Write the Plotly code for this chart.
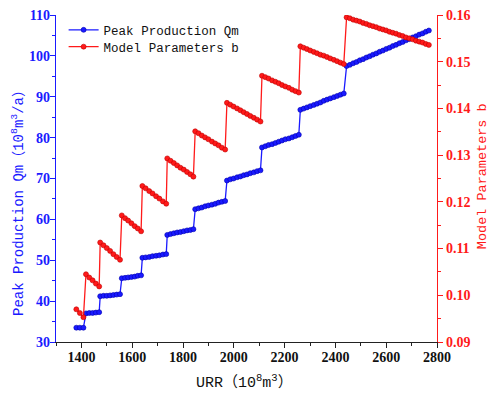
import plotly.graph_objects as go

# URR values (10^8 m^3)
urr = [
    1380, 1394, 1408,
    1418, 1431, 1444, 1457, 1470,
    1474, 1487, 1500, 1513, 1526, 1539, 1552,
    1559, 1572, 1584, 1597, 1610, 1622, 1635,
    1640, 1653, 1667, 1680, 1694, 1707, 1721, 1734,
    1738, 1751, 1764, 1777, 1790, 1803, 1816, 1829, 1841,
    1848, 1861, 1874, 1887, 1900, 1914, 1927, 1940, 1953, 1966,
    1973, 1986, 1999, 2013, 2026, 2039, 2052, 2065, 2079, 2092, 2105,
    2111, 2124, 2137, 2151, 2164, 2177, 2190, 2203, 2217, 2230, 2243, 2256,
    2262, 2275, 2288, 2301, 2315, 2328, 2341, 2354, 2367, 2380, 2394, 2407, 2420, 2433,
    2444, 2457, 2470, 2483, 2496, 2509, 2522, 2535, 2548, 2561, 2574, 2587, 2600,
    2613, 2626, 2639, 2652, 2665, 2678, 2691, 2704, 2717, 2730, 2743, 2756, 2768,
]

# Peak production Qm (10^8 m^3/a)
peak_qm = [
    33.5, 33.5, 33.5,
    37.0, 37.1, 37.1, 37.2, 37.3,
    41.2, 41.3, 41.3, 41.4, 41.5, 41.6, 41.7,
    45.6, 45.7, 45.8, 45.9, 46.0, 46.2, 46.3,
    50.6, 50.7, 50.8, 51.0, 51.1, 51.2, 51.4, 51.5,
    56.2, 56.4, 56.6, 56.8, 56.9, 57.1, 57.3, 57.4, 57.6,
    62.5, 62.7, 62.9, 63.2, 63.4, 63.6, 63.8, 64.1, 64.3, 64.5,
    69.5, 69.8, 70.0, 70.3, 70.5, 70.8, 71.0, 71.3, 71.5, 71.8, 72.0,
    77.6, 77.9, 78.2, 78.4, 78.7, 79.0, 79.3, 79.6, 79.8, 80.1, 80.4, 80.7,
    86.8, 87.1, 87.4, 87.7, 88.0, 88.3, 88.6, 89.0, 89.3, 89.6, 89.9, 90.2, 90.5, 90.8,
    97.5, 97.8, 98.2, 98.5, 98.9, 99.2, 99.6, 99.9, 100.3, 100.6, 101.0, 101.3, 101.7,
    102.0, 102.4, 102.7, 103.1, 103.4, 103.8, 104.1, 104.5, 104.8, 105.2, 105.5, 105.9, 106.2,
]

# Model parameter b
param_b = [
    0.0970, 0.0962, 0.0953,
    0.1045, 0.1038, 0.1032, 0.1025, 0.1019,
    0.1113, 0.1107, 0.1101, 0.1095, 0.1088, 0.1082, 0.1076,
    0.1171, 0.1165, 0.1160, 0.1154, 0.1148, 0.1143, 0.1137,
    0.1234, 0.1229, 0.1223, 0.1218, 0.1212, 0.1207, 0.1201, 0.1196,
    0.1293, 0.1288, 0.1283, 0.1278, 0.1273, 0.1269, 0.1264, 0.1259, 0.1254,
    0.1351, 0.1347, 0.1342, 0.1338, 0.1334, 0.1329, 0.1325, 0.1321, 0.1316, 0.1312,
    0.1412, 0.1408, 0.1404, 0.1400, 0.1396, 0.1392, 0.1388, 0.1384, 0.1380, 0.1376, 0.1372,
    0.1470, 0.1467, 0.1464, 0.1460, 0.1457, 0.1454, 0.1450, 0.1447, 0.1444, 0.1440, 0.1437, 0.1434,
    0.1533, 0.1530, 0.1527, 0.1524, 0.1521, 0.1518, 0.1515, 0.1513, 0.1510, 0.1507, 0.1504, 0.1501, 0.1498, 0.1495,
    0.1595, 0.1593, 0.1590, 0.1588, 0.1586, 0.1583, 0.1581, 0.1578, 0.1576, 0.1574, 0.1571, 0.1569, 0.1567,
    0.1564, 0.1562, 0.1560, 0.1557, 0.1555, 0.1552, 0.1550, 0.1548, 0.1545, 0.1543, 0.1541, 0.1538, 0.1536,
]

x_ticks = [1400, 1600, 1800, 2000, 2200, 2400, 2600, 2800]
y1_ticks = [30, 40, 50, 60, 70, 80, 90, 100, 110]
y2_ticks = [0.09, 0.10, 0.11, 0.12, 0.13, 0.14, 0.15, 0.16]
y2_labels = ["0.09", "0.10", "0.11", "0.12", "0.13", "0.14", "0.15", "0.16"]

x_title = "URR（10<sup>8</sup>m<sup>3</sup>）"
y1_title = "Peak Production Qm（10<sup>8</sup>m<sup>3</sup>/a）"
y2_title = "Model Parameters b"

BLUE = "#1a1aff"
RED = "#ff1a1a"
TXT_FONT = "Liberation Mono, Noto Sans CJK SC, monospace"
NUM_FONT = "Liberation Serif, Times New Roman, serif"

fig = go.Figure()
fig.add_trace(go.Scatter(
    x=urr, y=peak_qm, name="Peak Production Qm", mode="lines+markers",
    line=dict(color=BLUE, width=1.3), legend="legend",
    marker=dict(color=BLUE, size=5, line=dict(color="#0000b0", width=0.6)),
))
fig.add_trace(go.Scatter(
    x=urr, y=param_b, name="Model Parameters b", mode="lines+markers", yaxis="y2",
    line=dict(color=RED, width=1.3), legend="legend2",
    marker=dict(color=RED, size=5, line=dict(color="#c00000", width=0.6)),
))

legend_style = dict(
    xanchor="left", yanchor="middle",
    bgcolor="rgba(0,0,0,0)", borderwidth=0,
    font=dict(family=TXT_FONT, size=12.5, color="#111111"),
    itemwidth=30,
)

# the page body has an 8px margin, so the figure is 8px smaller than the window
fig.update_layout(
    width=490, height=389,
    margin=dict(l=48, r=61, t=7, b=55, autoexpand=False),
    paper_bgcolor="white", plot_bgcolor="white",
    showlegend=True,
    legend=dict(x=0.02, y=0.9535, **legend_style),
    legend2=dict(x=0.02, y=0.902, **legend_style),
    xaxis=dict(
        range=[1300, 2800], tickvals=x_ticks, automargin=False,
        ticklabeloverflow="allow",
        showgrid=False, zeroline=False,
        showline=True, linecolor="#222222", linewidth=1.2,
        ticks="outside", ticklen=5, tickwidth=1.2, tickcolor="#222222",
        ticklabelstandoff=-3,
        minor=dict(dtick=100, tick0=1300, ticks="outside", ticklen=3, tickwidth=1, tickcolor="#222222"),
        tickfont=dict(family=NUM_FONT, size=14, color="#111111", weight="bold"),
    ),
    yaxis=dict(
        range=[30, 110], tickvals=y1_ticks, automargin=False,
        ticklabeloverflow="allow",
        showgrid=False, zeroline=False,
        showline=True, linecolor=BLUE, linewidth=1.2,
        ticks="outside", ticklen=5, tickwidth=1.2, tickcolor=BLUE,
        ticklabelstandoff=-3,
        minor=dict(dtick=5, tick0=30, ticks="outside", ticklen=3, tickwidth=1, tickcolor=BLUE),
        tickfont=dict(family=NUM_FONT, size=14, color=BLUE, weight="bold"),
    ),
    yaxis2=dict(
        range=[0.09, 0.16], tickvals=y2_ticks, ticktext=y2_labels, automargin=False,
        ticklabeloverflow="allow",
        overlaying="y", side="right",
        showgrid=False, zeroline=False,
        showline=True, linecolor=RED, linewidth=1.2,
        ticks="outside", ticklen=5, tickwidth=1.2, tickcolor=RED,
        ticklabelstandoff=0,
        minor=dict(dtick=0.005, tick0=0.09, ticks="outside", ticklen=3, tickwidth=1, tickcolor=RED),
        tickfont=dict(family=NUM_FONT, size=14, color=RED, weight="bold"),
    ),
    annotations=[
        dict(text=x_title, xref="paper", yref="paper",
             x=0.496, y=-0.122, xanchor="center", yanchor="middle", showarrow=False,
             font=dict(family=TXT_FONT, size=15, color="#111111")),
        dict(text=y1_title, textangle=-90, xref="paper", yref="paper",
             x=-0.1, y=0.437, xanchor="center", yanchor="middle", showarrow=False,
             font=dict(family=TXT_FONT, size=14, color=BLUE)),
        dict(text=y2_title, textangle=-90, xref="paper", yref="paper",
             x=1.118, y=0.507, xanchor="center", yanchor="middle", showarrow=False,
             font=dict(family=TXT_FONT, size=13.5, color=RED)),
    ],
)

fig.write_html("out.html")
